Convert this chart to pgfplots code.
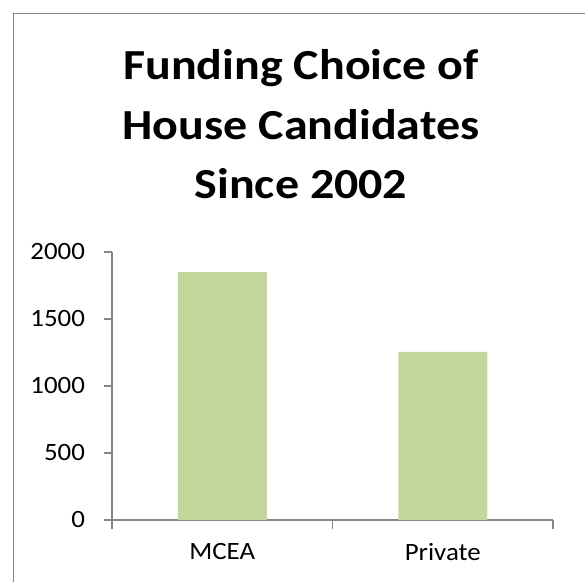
\documentclass[border=0pt]{standalone}
\usepackage{graphicx}
\usepackage{pgfplots}
\pgfplotsset{compat=1.18}
\usepackage{fontspec}
\setmainfont{Carlito}
\definecolor{barg}{HTML}{C3D69B}
\definecolor{axg}{HTML}{868686}
\newcommand{\ts}[1]{\scalebox{1.08}[1]{#1}}
\newcommand{\ttl}[1]{\scalebox{1.12}[1]{#1}}
\begin{document}
\begin{tikzpicture}[x=1bp,y=1bp]
\useasboundingbox (0,0) rectangle (585,582);
\draw[axg, line width=1.5bp] (13.5,-5) -- (13.5,568.5) -- (590,568.5);
\node[font=\fontsize{43}{50}\selectfont\bfseries, anchor=base] at (301,502) {\ttl{Funding Choice of}};
\node[font=\fontsize{43}{50}\selectfont\bfseries, anchor=base] at (301,442) {\ttl{House Candidates}};
\node[font=\fontsize{43}{50}\selectfont\bfseries, anchor=base] at (301,383) {\ttl{Since 2002}};
\begin{axis}[
  at={(112bp,62bp)}, anchor=south west,
  scale only axis, width=441bp, height=268bp,
  xmin=0, xmax=2, ymin=0, ymax=2000,
  ybar, bar width=89bp, bar shift=0pt,
  axis x line*=bottom, axis y line*=left,
  axis line style={axg, line width=1.2bp},
  every tick/.style={axg, line width=1.2bp},
  tick align=outside,
  major tick length=8.5bp,
  xtick={0,1,2}, xticklabels={},
  extra x ticks={0.5,1.5}, extra x tick labels={\ts{MCEA},\ts{Private}},
  extra x tick style={major tick length=0pt, tick label style={yshift=-20bp}},
  ytick={0,500,1000,1500,2000},
  yticklabels={\ts{0},\ts{500},\ts{1000},\ts{1500},\ts{2000}},
  yticklabel style={xshift=-15bp},
  tick label style={font=\fontsize{25}{30}\selectfont, text=black},
  clip=false,
]
\addplot[fill=barg, draw=none] coordinates {(0.5,1850) (1.5,1255)};
\end{axis}
\end{tikzpicture}
\end{document}
